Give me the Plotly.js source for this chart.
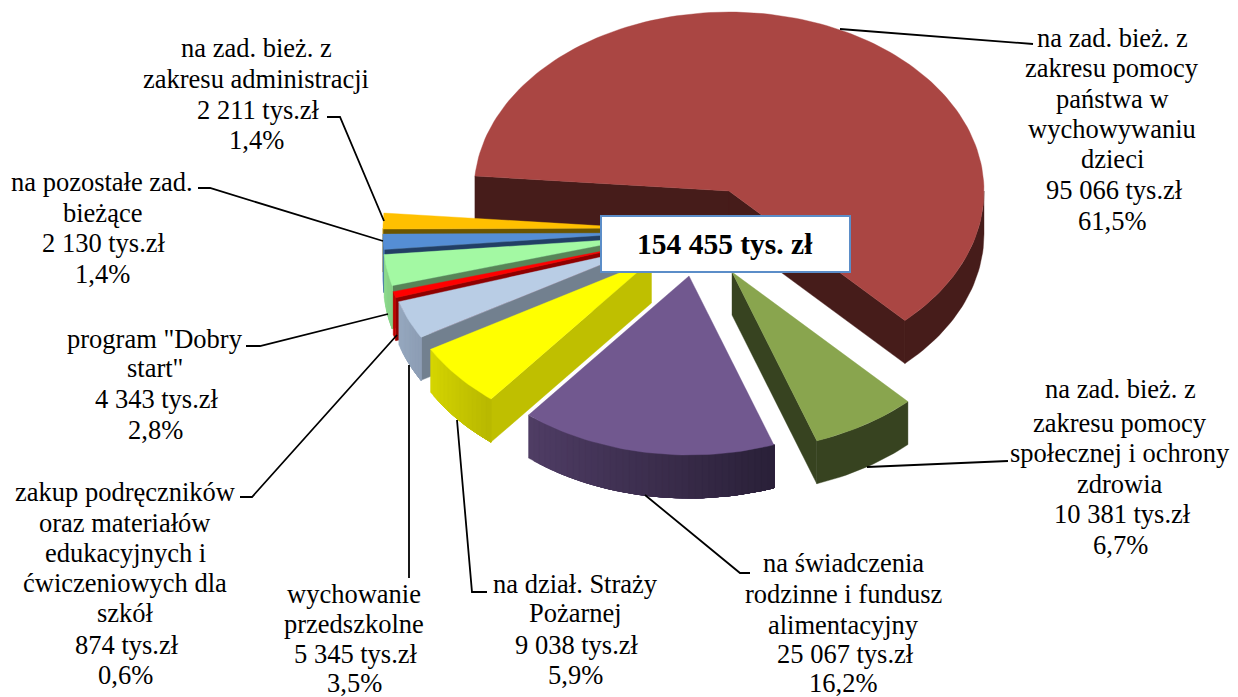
<!DOCTYPE html>
<html><head><meta charset="utf-8">
<script src="https://cdn.plot.ly/plotly-3.0.1.min.js"></script>
<style>html,body{margin:0;padding:0;background:#fff}#c{width:1238px;height:697px}</style></head>
<body><div id="c"></div>
<script>
// ---- data (clockwise from the large slice) ----
const names = [
  ["na zad. bież. z","zakresu pomocy","państwa w","wychowywaniu","dzieci"],
  ["na zad. bież. z","zakresu pomocy","społecznej i ochrony","zdrowia"],
  ["na świadczenia","rodzinne i fundusz","alimentacyjny"],
  ["na dział. Straży","Pożarnej"],
  ["wychowanie","przedszkolne"],
  ["zakup podręczników","oraz materiałów","edukacyjnych i","ćwiczeniowych dla","szkół"],
  ["program \"Dobry","start\""],
  ["na pozostałe zad.","bieżące"],
  ["na zad. bież. z","zakresu administracji"]
];
const values = [95066,10381,25067,9038,5345,874,4343,2130,2211];
const percents = ["61,5%","6,7%","16,2%","5,9%","3,5%","0,6%","2,8%","1,4%","1,4%"];
const unit = "tys.zł";
const totalUnit = "tys. zł";

// ---- style ----
const topColors  = ["#AA4643","#89A54E","#71588F","#FFFF00","#B9CDE5","#FF0000","#A3F9A3","#558ED5","#FFC000"];
const cutColors  = ["#461C1A","#374320","#3A2C4C","#BFBF00","#72808F","#8F0000","#588558","#223F65","#6B5500"];
const wallFrom   = ["#461C1A","#374320","#4F3D65","#D6D600","#97A9C0","#C00000","#8FDC8F","#4A7CBA","#D9A300"];
const wallTo     = ["#461C1A","#374320","#2A2038","#B8B800","#8C9DB4","#C00000","#86D086","#4472AA","#D9A300"];
const drawOrder  = [0,8,7,6,5,4,3,2,1];
// ---- pie geometry: exploded hub of each slice ----
const hubX = [729,732,689,651.5,642,639,638,638,638];
const hubY = [191,272,276,260,248,244,238,233,228];
const radiusX = 255, radiusY = 179, depth = 43, firstAngle = 274.8;
// ---- label layout ----
const labelX = [1112,1120,843,575,354,125,155,102,256];
const valueShift = 2;
const labelY = [
  [38,68,99,129,159,190,221],
  [389,423,453,484,514,545],
  [563,594,625,654,683],
  [584,613,645,675],
  [594,624,654,683],
  [492,523,553,583,613,645,675],
  [339,368,399,430],
  [182,213,243,274],
  [48,79,110,140]
];
const leaderX = [[840,1025,1033],[867,1000,1008],[645,740,750],[457,472,487],[409,409],[397,252,240],[388,260,246],[383,210,198],[384,340,327]];
const leaderY = [[29,44,44],[467,461,461],[495,573,573],[420,592,592],[365,578],[335,497,497],[314,346,346],[241,188,188],[221,117,117]];

const fmt = v => String(v).replace(/\B(?=(\d{3})+$)/g," ");
const total = values.reduce((a,b)=>a+b,0);
const rad = d => d*Math.PI/180;
const px = (i,a) => hubX[i]+radiusX*Math.sin(rad(a));
const py = (i,a) => hubY[i]-radiusY*Math.cos(rad(a));
const hex = c => [1,3,5].map(k=>parseInt(c.substr(k,2),16));
const mix = (a,b,t) => { const A=hex(a),B=hex(b); return "rgb("+A.map((v,k)=>Math.round(v+(B[k]-v)*t)).join(",")+")"; };

let a0 = firstAngle; const spans = values.map(v=>{const s=a0; a0+=v/total*360; return [s,a0];});
const traces = [];
const poly = (x,y,color) => traces.push({type:"scatter",mode:"lines",x:x.concat(x[0]),y:y.concat(y[0]),fill:"toself",fillcolor:color,
  line:{color:color,width:0.4},hoverinfo:"skip",showlegend:false});

drawOrder.forEach(i=>{
  const [s,e] = spans[i];
  const face = a => poly([hubX[i],px(i,a),px(i,a),hubX[i]],[hubY[i],py(i,a),py(i,a)+depth,hubY[i]+depth],cutColors[i]);
  if (Math.sin(rad(s))<0) face(s);
  if (Math.sin(rad(e))>0) face(e);
  // outer wall: the part of the rim facing the viewer
  for (const off of [0,360]) {
    const lo=Math.max(s,90+off), hi=Math.min(e,270+off);
    if (hi<=lo) continue;
    const n=wallFrom[i]===wallTo[i]?1:Math.max(1,Math.ceil((hi-lo)/1.5));
    // painted from the high angle down: each band overlaps the next, so no seams show
    for (let k=n-1;k>=0;k--){
      const a=lo, b=lo+(hi-lo)*(k+1)/n, xs=[],ys=[], m=Math.max(2,Math.ceil((b-a)/1.5));
      for(let q=0;q<=m;q++){const t=a+(b-a)*q/m; xs.push(px(i,t)); ys.push(py(i,t));}
      for(let q=m;q>=0;q--){const t=a+(b-a)*q/m; xs.push(px(i,t)); ys.push(py(i,t)+depth);}
      poly(xs,ys,mix(wallFrom[i],wallTo[i],1-(k+0.5)/n));
    }
  }
  const xs=[hubX[i]],ys=[hubY[i]], n=Math.ceil((e-s)/1.5);
  for(let k=0;k<=n;k++){const t=s+(e-s)*k/n; xs.push(px(i,t)); ys.push(py(i,t));}
  poly(xs,ys,topColors[i]);
});
values.forEach((v,i)=>traces.push({type:"scatter",mode:"lines",x:leaderX[i],y:leaderY[i],line:{color:"#000",width:1.8},hoverinfo:"skip",showlegend:false}));

const serif = "'Liberation Serif','Times New Roman',serif";
const annotations = [];
values.forEach((v,i)=>{
  const lines = names[i].concat([fmt(v)+" "+unit, percents[i]]);
  lines.forEach((t,k)=>annotations.push({xref:"x",yref:"y",x:labelX[i]+(k===lines.length-2?valueShift:0),y:labelY[i][k],text:t,showarrow:false,xanchor:"center",yanchor:"middle",
    font:{family:serif,size:26.5,color:"#000"}}));
});
annotations.push({xref:"x",yref:"y",x:725,y:244,text:"<b>"+fmt(total)+" "+totalUnit+"</b>",showarrow:false,xanchor:"center",yanchor:"middle",
  font:{family:serif,size:29.5,color:"#000"}});

Plotly.newPlot("c",traces,{
  width:1238,height:697,margin:{l:0,r:0,t:0,b:0},paper_bgcolor:"#fff",plot_bgcolor:"#fff",showlegend:false,
  xaxis:{range:[0,1238],visible:false,fixedrange:true},
  yaxis:{range:[697,0],visible:false,fixedrange:true},
  shapes:[{type:"rect",xref:"x",yref:"y",x0:601,x1:850,y0:216,y1:272,fillcolor:"#fff",line:{color:"#5B8DC8",width:2},layer:"above"}],
  annotations
},{displayModeBar:false,staticPlot:true});
</script></body></html>
